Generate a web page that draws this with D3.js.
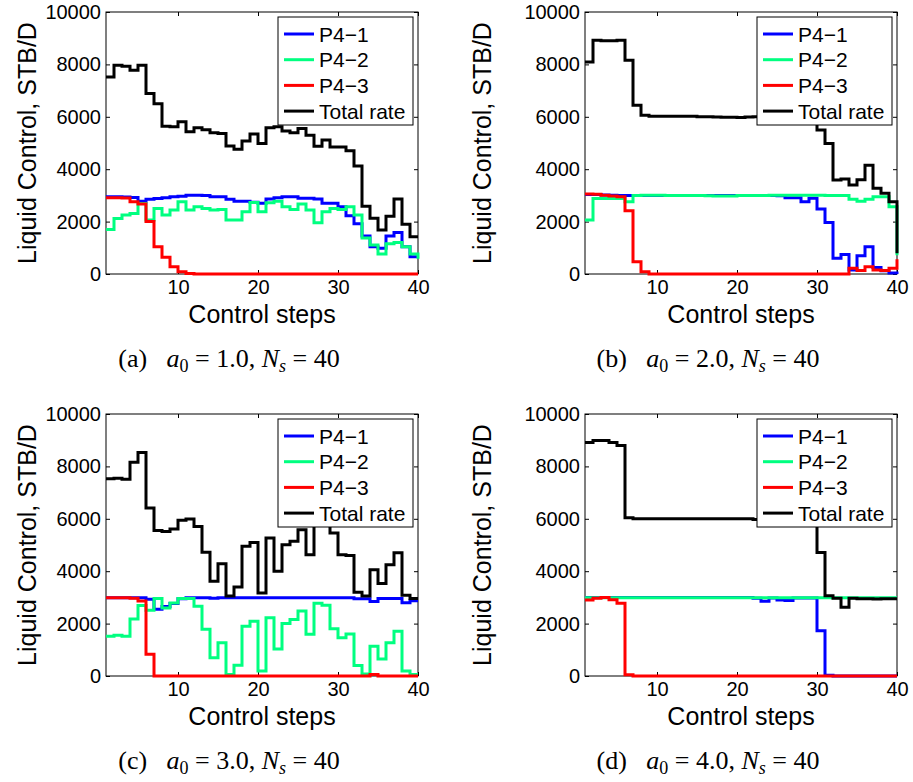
<!DOCTYPE html>
<html>
<head>
<meta charset="utf-8">
<script src="https://cdn.jsdelivr.net/npm/d3@7"></script>
<style>
  body { margin: 0; background: #fff; }
  text { font-family: "Liberation Sans", Arial, sans-serif; }
  text.cap { font-family: "Liberation Serif", "DejaVu Serif", serif; }
</style>
</head>
<body>
<svg width="913" height="782"></svg>
<script>
const steps = d3.range(1, 41);
const xTicks = [10, 20, 30, 40];
const yTicks = [0, 2000, 4000, 6000, 8000, 10000];
const seriesNames = ['P4\u22121', 'P4\u22122', 'P4\u22123', 'Total rate'];
const seriesColors = ['#0000ff', '#00ff80', '#ff0000', '#000000'];
const captionTags = ['(a)', '(b)', '(c)', '(d)'];
const a0Values = ['1.0', '2.0', '3.0', '4.0'];

// (a) a0 = 1.0
const p1A = [2950, 2950, 2940, 2920, 2780, 2850, 2880, 2910, 2950, 2970,
  3010, 3010, 3000, 2950, 2950, 2850, 2780, 2780, 2740, 2700,
  2860, 2910, 2950, 2950, 2890, 2890, 2860, 2700, 2700, 2570,
  2220, 1920, 1450, 1040, 980, 1450, 1580, 1040, 660, 660];
const p2A = [1700, 2120, 2250, 2310, 2690, 2060, 2500, 2250, 2440, 2760,
  2440, 2570, 2500, 2440, 2460, 2060, 2060, 2380, 2730, 2380,
  2720, 2780, 2570, 2460, 2670, 2440, 1960, 2380, 2500, 2460,
  2570, 2250, 1370, 1110, 760, 1150, 1200, 1040, 760, 580];
const p3A = [2910, 2910, 2900, 2760, 2670, 2000, 1040, 640, 280, 90,
  20, 0, 0, 0, 0, 0, 0, 0, 0, 0,
  0, 0, 0, 0, 0, 0, 0, 0, 0, 0,
  0, 0, 0, 0, 0, 0, 0, 0, 0, 0];
const totA = [7520, 7970, 7930, 7780, 7970, 6890, 6500, 5640, 5620, 5810,
  5430, 5580, 5510, 5390, 5360, 4890, 4760, 5080, 5340, 4980,
  5580, 5620, 5460, 5390, 5550, 5300, 4880, 5110, 4850, 4850,
  4700, 4120, 2590, 2130, 1680, 2200, 2860, 1900, 1420, 1420];

// (b) a0 = 2.0
const p1B = [3030, 3030, 3020, 3010, 3000, 3000, 3000, 3000, 3000, 3000,
  3000, 3000, 3000, 3000, 3000, 3000, 3000, 3000, 3000, 3000,
  3000, 3000, 3000, 3000, 2990, 2910, 2910, 2760, 2890, 2480,
  1970, 600, 740, 150, 700, 1040, 250, 120, 40, 0];
const p2B = [2060, 2880, 2880, 2880, 2880, 2760, 3000, 3010, 3010, 3010,
  3000, 3000, 3000, 3000, 3000, 2990, 2980, 2980, 2980, 3000,
  3000, 3000, 3000, 3010, 3010, 3010, 3010, 3010, 3010, 3010,
  3000, 3000, 3000, 2850, 2780, 2850, 2950, 2950, 2570, 720];
const p3B = [3050, 3040, 3010, 2980, 2950, 2410, 470, 90, 0, 0,
  0, 0, 0, 0, 0, 0, 0, 0, 0, 0,
  0, 0, 0, 0, 0, 0, 0, 0, 0, 0,
  0, 0, 0, 220, 130, 280, 150, 130, 220, 560];
const totB = [8090, 8920, 8900, 8900, 8920, 8160, 6440, 6060, 6020, 6020,
  6020, 6020, 6020, 6020, 6000, 6000, 5990, 5980, 5980, 5970,
  5990, 6000, 6000, 6010, 6000, 6000, 6000, 6000, 5950, 5500,
  4980, 3590, 3630, 3400, 3600, 4150, 3270, 3080, 2760, 790];

// (c) a0 = 3.0
const p1C = [2990, 2990, 2990, 2990, 2990, 2930, 2550, 2650, 2770, 2950,
  2990, 2990, 2990, 2970, 2990, 2990, 2990, 2990, 2990, 2990,
  2990, 2990, 2990, 2990, 2990, 2990, 2990, 2990, 2990, 2990,
  2990, 2950, 2950, 2840, 2960, 2960, 2960, 2800, 2870, 2870];
const p2C = [1520, 1560, 1520, 2180, 2690, 2510, 2960, 2600, 2790, 2960,
  2960, 2660, 1780, 700, 1270, 60, 410, 1900, 2090, 190,
  2220, 1030, 2000, 2160, 2480, 1590, 2780, 2700, 1800, 1460,
  1600, 400, 80, 1140, 650, 1270, 1710, 190, 60, 60];
const p3C = [2990, 2990, 2990, 2970, 2860, 830, 0, 0, 0, 0,
  0, 0, 0, 0, 0, 0, 0, 0, 0, 0,
  0, 0, 0, 0, 0, 0, 0, 0, 0, 0,
  0, 0, 0, 60, 0, 0, 0, 0, 0, 0];
const totC = [7530, 7550, 7510, 8160, 8530, 6410, 5550, 5520, 5610, 5940,
  5990, 5710, 4720, 3620, 4280, 3050, 3400, 4950, 5100, 3170,
  5270, 4000, 5010, 5140, 5580, 4630, 6100, 5900, 5460, 4630,
  4600, 3200, 3050, 4060, 3530, 4250, 4700, 3080, 2960, 2960];

// (d) a0 = 4.0
const p1D = [3000, 3000, 3000, 3000, 3000, 3000, 3000, 3000, 3000, 3000,
  3000, 3000, 3000, 3000, 3000, 3000, 3000, 3000, 3000, 3000,
  3000, 2970, 2850, 2980, 2900, 2880, 2980, 2980, 2980, 1730,
  30, 0, 0, 0, 0, 0, 0, 0, 0, 0];
const p2D = [2990, 2990, 2990, 2990, 2990, 2990, 2990, 2990, 2990, 2990,
  2990, 2990, 2990, 2990, 2990, 2990, 2990, 2990, 2990, 2990,
  2990, 2990, 2990, 2990, 2990, 2990, 2990, 2990, 2990, 2990,
  2990, 2990, 2990, 2990, 2990, 2990, 2990, 2990, 2990, 2990];
const p3D = [2900, 2970, 3000, 2910, 2780, 50, 0, 0, 0, 0,
  0, 0, 0, 0, 0, 0, 0, 0, 0, 0,
  0, 0, 0, 0, 0, 0, 0, 0, 0, 0,
  0, 0, 0, 0, 0, 0, 0, 0, 0, 0];
const totD = [8910, 8990, 8990, 8910, 8800, 6040, 6000, 6000, 6000, 6000,
  6000, 6000, 6000, 6000, 6000, 6000, 6000, 6000, 6000, 6000,
  6000, 5970, 5850, 5980, 5900, 5880, 5980, 5980, 5800, 4710,
  3060, 2970, 2620, 2970, 2950, 2950, 2940, 2950, 2950, 2950];

const panelSeries = [
  [p1A, p2A, p3A, totA],
  [p1B, p2B, p3B, totB],
  [p1C, p2C, p3C, totC],
  [p1D, p2D, p3D, totD]
];

const svg = d3.select('svg');
const W = 312, H = 262;
const origins = [[106, 12], [585, 12], [106, 414], [585, 414]];
const yLabelX = [27, 482, 27, 482];

const x = d3.scaleLinear().domain([1, 40]).range([0, W]);
const y = d3.scaleLinear().domain([0, 10000]).range([H, 0]);

const line = d3.line()
  .x((d) => x(d[0]))
  .y((d) => y(d[1]))
  .curve(d3.curveStepAfter);

panelSeries.forEach((series, p) => {
  const [ox, oy] = origins[p];
  const g = svg.append('g').attr('transform', `translate(${ox},${oy})`);

  // axes, ticks point inward like matlab
  g.append('g')
    .attr('transform', `translate(0,${H})`)
    .call(d3.axisBottom(x).tickValues(xTicks).tickSizeInner(-4).tickSizeOuter(0).tickPadding(6))
    .call((a) => a.select('.domain').remove())
    .selectAll('text').attr('font-size', '20px').attr('fill', '#000');
  g.append('g')
    .call(d3.axisTop(x).tickValues(xTicks).tickSizeInner(-4).tickSizeOuter(0).tickFormat(''))
    .call((a) => a.select('.domain').remove());
  g.append('g')
    .call(d3.axisLeft(y).tickValues(yTicks).tickSizeInner(-4).tickSizeOuter(0)
      .tickPadding(5).tickFormat(d3.format('d')))
    .call((a) => a.select('.domain').remove())
    .selectAll('text').attr('font-size', '20px').attr('fill', '#000');
  g.append('g')
    .attr('transform', `translate(${W},0)`)
    .call(d3.axisRight(y).tickValues(yTicks).tickSizeInner(-4).tickSizeOuter(0).tickFormat(''))
    .call((a) => a.select('.domain').remove());
  g.selectAll('.tick line').attr('stroke', '#000');

  g.append('rect')
    .attr('width', W).attr('height', H)
    .attr('fill', 'none').attr('stroke', '#000').attr('stroke-width', 1);

  series.forEach((vals, i) => {
    g.append('path')
      .datum(steps.map((s, k) => [s, vals[k]]))
      .attr('d', line)
      .attr('fill', 'none')
      .attr('stroke', seriesColors[i])
      .attr('stroke-width', 3);
  });

  // legend
  const lg = g.append('g').attr('transform', `translate(${W - 140},5)`);
  lg.append('rect')
    .attr('width', 135).attr('height', 108)
    .attr('fill', '#fff').attr('stroke', '#000').attr('stroke-width', 1);
  seriesNames.forEach((name, i) => {
    const ly = 17 + i * 25.7;
    lg.append('line')
      .attr('x1', 6).attr('x2', 36).attr('y1', ly).attr('y2', ly)
      .attr('stroke', seriesColors[i]).attr('stroke-width', 3);
    lg.append('text')
      .attr('x', 41).attr('y', ly).attr('dy', '0.36em')
      .attr('font-size', '21px')
      .text(name);
  });

  // axis labels
  g.append('text')
    .attr('x', W / 2).attr('y', H + 49)
    .attr('text-anchor', 'middle')
    .attr('font-size', '25px')
    .text('Control steps');
  svg.append('text')
    .attr('transform', `translate(${yLabelX[p]},${oy + H / 2}) rotate(-90)`)
    .attr('text-anchor', 'middle')
    .attr('dy', '0.36em')
    .attr('font-size', '25px')
    .text('Liquid Control, STB/D');

  // caption
  const cap = svg.append('text')
    .attr('class', 'cap')
    .attr('x', ox + 123).attr('y', oy + 355)
    .attr('text-anchor', 'middle')
    .attr('font-size', '26px');
  cap.append('tspan').text(captionTags[p] + '\u2002 ');
  cap.append('tspan').attr('font-style', 'italic').text('a');
  cap.append('tspan').attr('font-size', '18px').attr('dy', 5).text('0');
  cap.append('tspan').attr('dy', -5).text(' = ' + a0Values[p] + ', ');
  cap.append('tspan').attr('font-style', 'italic').text('N');
  cap.append('tspan').attr('font-style', 'italic').attr('font-size', '18px').attr('dy', 5).text('s');
  cap.append('tspan').attr('dy', -5).text(' = 40');
});
</script>
</body>
</html>
